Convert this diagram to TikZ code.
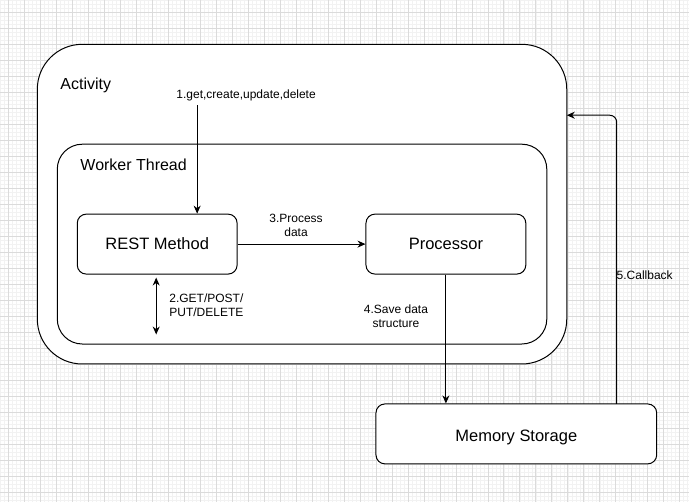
\documentclass[tikz,border=0pt]{standalone}
\usepackage{fontspec}
\setmainfont{Liberation Sans}
\usepackage{tikz}
\usetikzlibrary{calc,arrows.meta}

\tikzset{
  box/.style={draw, rounded corners=9pt, fill=white, line width=1pt, minimum width=160pt, minimum height=60pt, font=\fontsize{16.5}{19}\selectfont},
  lbl/.style={font=\fontsize{12}{14}\selectfont, align=center, inner sep=0pt},
  conn/.style={line width=1pt, -{Stealth[length=8pt,width=7pt]}}
}

\begin{document}
\begin{tikzpicture}[x=1pt, y=-1pt]

% Background grid
\fill[white] (0,0) rectangle (689,502);
\draw[black!5, line width=0.5pt] (0,0) grid[step=4pt] (689,502);
\foreach \gx in {8,24,...,688} \draw[black!14, line width=0.7pt] (\gx,0) -- (\gx,502);
\foreach \gy in {12,28,...,500} \draw[black!14, line width=0.7pt] (0,\gy) -- (689,\gy);
\useasboundingbox (0,0) rectangle (689,502);

% Outer containers
\draw[line width=1pt, fill=white, rounded corners=45pt] (37,44) rectangle (567,364);
\coordinate (activityeast) at (567,115);
\node[anchor=west, inner sep=0pt, font=\fontsize{16}{19}\selectfont] (activity) at (60,85) {Activity};

\draw[line width=1pt, fill=white, rounded corners=25pt] (57,144) rectangle (547,344);
\node[anchor=west, inner sep=0pt, font=\fontsize{16}{19}\selectfont] (worker) at (80,165) {Worker Thread};

% Blocks
\node[box] (rest) at (157,244) {REST Method};
\node[box] (proc) at (446,244) {Processor};
\node[box, minimum width=281pt, text depth=0pt, yshift=0pt] (mem) at (516.5,434) {\raisebox{-3pt}{Memory Storage}};

% 1. request into REST Method
\coordinate (getin) at (197,105);
\node[lbl] (getlbl) at (246,95) {1.get,create,update,delete};
\draw[conn] (getin) -- (getin |- rest.north);

% 2. GET/POST/PUT/DELETE
\coordinate (httptop) at ($(rest.south)+(-1,3)$);
\coordinate (httpbot) at ($(rest.south)+(-1,60)$);
\draw[line width=1pt, {Stealth[length=8pt,width=7pt]}-{Stealth[length=8pt,width=7pt]}] (httptop) -- (httpbot);
\node[lbl, anchor=west, align=left] (httplbl) at (169,305) {2.GET/POST/\\PUT/DELETE};

% 3. Process data
\draw[conn] (rest.east) -- (proc.west);
\node[lbl] (proclbl) at (296,225) {3.Process\\data};

% 4. Save data structure
\draw[conn] (proc.south) -- (proc.south |- mem.north);
\node[lbl] (savelbl) at (396,316) {4.Save data\\structure};

% 5. Callback
\coordinate (cbstart) at (617,404);
\draw[conn, rounded corners=7pt] (cbstart) -- (617,115) -- (activityeast);
\node[lbl] (cblbl) at (645,275) {5.Callback};

\end{tikzpicture}
\end{document}
